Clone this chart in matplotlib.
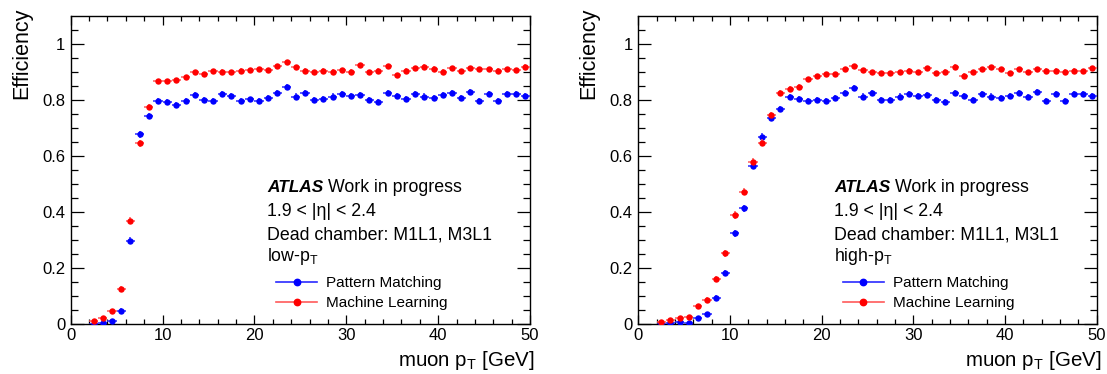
import numpy as np
import matplotlib
matplotlib.use("Agg")
import matplotlib.pyplot as plt
from matplotlib.lines import Line2D

plt.rcParams['font.family'] = ['Liberation Sans', 'DejaVu Sans']
plt.rcParams['mathtext.fontset'] = 'custom'
plt.rcParams['mathtext.rm'] = 'Liberation Sans'

# 1 GeV bins from 2 to 50 GeV
pt_edges = np.arange(2, 51, 1)
pt_centers = 0.5 * (pt_edges[:-1] + pt_edges[1:])
pt_halfwidth = 0.5 * np.diff(pt_edges)

# low-pT threshold
low_pm = [0.000, 0.003, 0.011, 0.047, 0.297, 0.677, 0.743, 0.796, 0.794, 0.782,
          0.796, 0.818, 0.800, 0.797, 0.821, 0.814, 0.796, 0.802, 0.796, 0.806,
          0.824, 0.847, 0.812, 0.826, 0.800, 0.802, 0.812, 0.820, 0.815, 0.818,
          0.800, 0.794, 0.826, 0.814, 0.802, 0.821, 0.812, 0.806, 0.818, 0.826,
          0.808, 0.827, 0.797, 0.821, 0.797, 0.821, 0.821, 0.815]
low_ml = [0.010, 0.019, 0.047, 0.124, 0.368, 0.645, 0.776, 0.868, 0.868, 0.871,
          0.881, 0.899, 0.893, 0.903, 0.901, 0.899, 0.905, 0.907, 0.911, 0.907,
          0.921, 0.935, 0.917, 0.905, 0.899, 0.905, 0.901, 0.907, 0.901, 0.924,
          0.899, 0.905, 0.922, 0.890, 0.905, 0.913, 0.919, 0.912, 0.901, 0.913,
          0.903, 0.913, 0.909, 0.909, 0.905, 0.909, 0.907, 0.919]
low_pm_err = [0.004, 0.005, 0.006, 0.008, 0.012, 0.012, 0.011, 0.010, 0.010, 0.010,
              0.010, 0.010, 0.010, 0.010, 0.010, 0.010, 0.010, 0.010, 0.010, 0.010,
              0.011, 0.011, 0.011, 0.011, 0.011, 0.011, 0.011, 0.011, 0.011, 0.011,
              0.011, 0.011, 0.011, 0.011, 0.011, 0.011, 0.011, 0.011, 0.011, 0.011,
              0.011, 0.011, 0.011, 0.011, 0.011, 0.011, 0.011, 0.011]
low_ml_err = [0.005, 0.006, 0.007, 0.009, 0.012, 0.012, 0.010, 0.008, 0.008, 0.008,
              0.008, 0.008, 0.008, 0.008, 0.008, 0.008, 0.008, 0.008, 0.008, 0.008,
              0.008, 0.008, 0.008, 0.008, 0.008, 0.008, 0.008, 0.008, 0.008, 0.008,
              0.008, 0.008, 0.008, 0.008, 0.008, 0.008, 0.008, 0.008, 0.008, 0.008,
              0.008, 0.008, 0.008, 0.008, 0.008, 0.008, 0.008, 0.008]

# high-pT threshold
high_pm = [0.000, 0.004, 0.005, 0.002, 0.021, 0.035, 0.093, 0.180, 0.323, 0.413,
           0.565, 0.669, 0.734, 0.767, 0.812, 0.805, 0.796, 0.800, 0.796, 0.806,
           0.824, 0.844, 0.812, 0.826, 0.800, 0.800, 0.812, 0.820, 0.815, 0.818,
           0.800, 0.794, 0.826, 0.814, 0.800, 0.821, 0.812, 0.806, 0.815, 0.826,
           0.809, 0.827, 0.797, 0.821, 0.796, 0.821, 0.821, 0.815]
high_ml = [0.007, 0.013, 0.021, 0.025, 0.064, 0.085, 0.159, 0.252, 0.389, 0.472,
           0.579, 0.647, 0.746, 0.826, 0.839, 0.847, 0.874, 0.886, 0.892, 0.892,
           0.909, 0.921, 0.907, 0.899, 0.895, 0.895, 0.899, 0.905, 0.899, 0.915,
           0.895, 0.901, 0.919, 0.887, 0.899, 0.909, 0.917, 0.909, 0.897, 0.909,
           0.900, 0.909, 0.905, 0.905, 0.901, 0.905, 0.903, 0.915]
high_pm_err = [0.004, 0.004, 0.004, 0.004, 0.006, 0.007, 0.009, 0.011, 0.012, 0.013,
               0.013, 0.012, 0.011, 0.011, 0.010, 0.010, 0.010, 0.010, 0.010, 0.010,
               0.011, 0.011, 0.011, 0.011, 0.011, 0.011, 0.011, 0.011, 0.011, 0.011,
               0.011, 0.011, 0.011, 0.011, 0.011, 0.011, 0.011, 0.011, 0.011, 0.011,
               0.011, 0.011, 0.011, 0.011, 0.011, 0.011, 0.011, 0.011]
high_ml_err = [0.005, 0.006, 0.006, 0.006, 0.008, 0.009, 0.011, 0.012, 0.013, 0.013,
               0.013, 0.012, 0.011, 0.009, 0.009, 0.009, 0.008, 0.008, 0.008, 0.008,
               0.008, 0.008, 0.008, 0.008, 0.008, 0.008, 0.008, 0.008, 0.008, 0.008,
               0.008, 0.008, 0.008, 0.008, 0.008, 0.008, 0.008, 0.008, 0.008, 0.008,
               0.008, 0.008, 0.008, 0.008, 0.008, 0.008, 0.008, 0.008]

series_labels = ["Pattern Matching", "Machine Learning"]
threshold_labels = [r"low-$\mathregular{p_T}$", r"high-$\mathregular{p_T}$"]
eta_label = "1.9 < |η| < 2.4"
chamber_label = "Dead chamber: M1L1, M3L1"
x_title = r"muon $\mathregular{p_T}$ [GeV]"
y_title = "Efficiency"

PM_COLOR = "#0000ff"
PM_ECOLOR = "#2a2aff"
ML_COLOR = "#ff0000"
ML_ECOLOR = "#ff5a5a"

W, H = 1107, 374
fig = plt.figure(figsize=(W / 100, H / 100), dpi=100)
renderer = fig.canvas.get_renderer()


def fx(px):
    return px / W


def fy(py):
    return 1 - py / H


panels = [
    dict(x0=70.7, x1=530.0, pm=low_pm, ml=low_ml, pm_err=low_pm_err, ml_err=low_ml_err,
         thr=threshold_labels[0], tx=267.3, lx=276.0, ylab_x=22),
    dict(x0=638.3, x1=1096.8, pm=high_pm, ml=high_ml, pm_err=high_pm_err, ml_err=high_ml_err,
         thr=threshold_labels[1], tx=834.0, lx=842.7, ylab_x=589),
]

y_bottom, y_top = 323.7, 16.0
TXT = 12.8

for p in panels:
    ax = fig.add_axes([fx(p["x0"]), fy(y_bottom), (p["x1"] - p["x0"]) / W, (y_bottom - y_top) / H])
    ax.errorbar(pt_centers, p["pm"], xerr=pt_halfwidth, yerr=p["pm_err"], fmt="o",
                color=PM_COLOR, ecolor=PM_ECOLOR, ms=4.6, mew=0, elinewidth=1.1, capsize=0, zorder=3)
    ax.errorbar(pt_centers, p["ml"], xerr=pt_halfwidth, yerr=p["ml_err"], fmt="o",
                color=ML_COLOR, ecolor=ML_ECOLOR, ms=4.6, mew=0, elinewidth=1.1, capsize=0, zorder=4)

    ax.set_xlim(0, 50)
    ax.set_ylim(0, 1.1)
    ax.set_xticks([0, 10, 20, 30, 40, 50])
    ax.set_xticks(np.arange(0, 51, 2), minor=True)
    ax.set_yticks([0, 0.2, 0.4, 0.6, 0.8, 1.0])
    ax.set_yticklabels(["0", "0.2", "0.4", "0.6", "0.8", "1"])
    ax.set_yticks(np.arange(0, 1.1, 0.05), minor=True)
    ax.tick_params(which="both", direction="in", top=True, right=True, labelsize=12, width=0.9)
    ax.tick_params(axis="x", which="major", length=6.5, pad=3)
    ax.tick_params(axis="x", which="minor", length=3.3)
    ax.tick_params(axis="y", which="major", length=9.4, pad=4)
    ax.tick_params(axis="y", which="minor", length=4.8)
    for s in ax.spines.values():
        s.set_linewidth(1.0)

    fig.text(fx(p["x1"] + 5), fy(366), x_title, ha="right", va="baseline", fontsize=14.8)
    fig.text(fx(p["ylab_x"]), fy(8), y_title, ha="center", va="top", rotation=90, fontsize=15.5)

    atlas = fig.text(fx(p["tx"]), fy(192), "ATLAS", fontsize=12.4, fontweight="bold",
                     fontstyle="italic", va="baseline", ha="left")
    bb = atlas.get_window_extent(renderer=renderer)
    fig.text((bb.x1 + 4.5) / W, fy(192), "Work in progress", fontsize=TXT, va="baseline", ha="left")
    fig.text(fx(p["tx"]), fy(215.5), eta_label, fontsize=TXT, va="baseline", ha="left")
    fig.text(fx(p["tx"]), fy(239), chamber_label, fontsize=TXT, va="baseline", ha="left")
    fig.text(fx(p["tx"]), fy(261), p["thr"], fontsize=TXT, va="baseline", ha="left")

    handles = [
        Line2D([], [], color=PM_ECOLOR, lw=1.2, marker="o", ms=4.6, mfc=PM_COLOR, mec=PM_COLOR),
        Line2D([], [], color=ML_ECOLOR, lw=1.2, marker="o", ms=4.6, mfc=ML_COLOR, mec=ML_COLOR),
    ]
    ax.legend(handles, series_labels, loc="upper left", frameon=False, fontsize=11,
              bbox_to_anchor=(fx(p["lx"]), fy(276.5)), bbox_transform=fig.transFigure,
              borderpad=0, borderaxespad=0, handlelength=2.7, handletextpad=0.6,
              labelspacing=0.36)

fig.savefig("out.png", dpi=100)
